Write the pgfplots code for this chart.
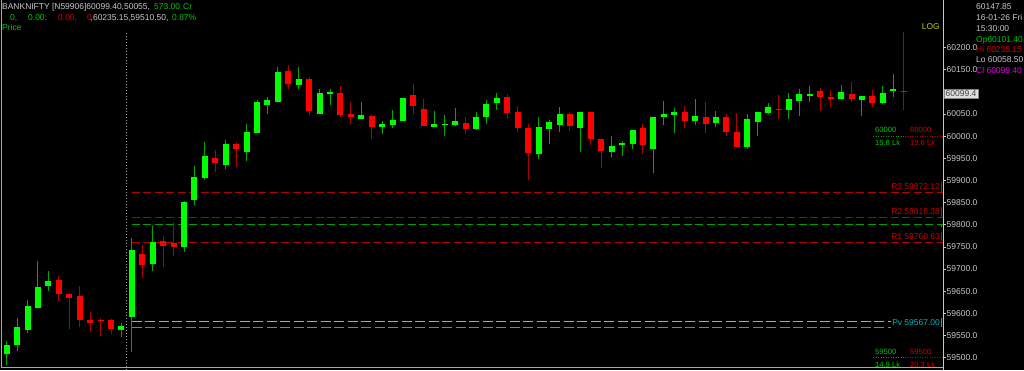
\documentclass[border=0pt]{standalone}
\usepackage{pgfplots}
\pgfplotsset{compat=1.18}
\usepackage{pgfplotstable}
\usepackage{fontspec}
\setmainfont{Liberation Sans}
\pgfdeclarelayer{bg}
\pgfsetlayers{bg,main}
\definecolor{cgreen}{HTML}{00FF00}
\definecolor{cred}{HTML}{FF0000}
\definecolor{wgreen}{HTML}{00A800}
\definecolor{wred}{HTML}{B00000}
\definecolor{txtgray}{HTML}{C8C8C8}
\definecolor{tgreen}{HTML}{00C800}
\definecolor{tred}{HTML}{D00000}
\definecolor{lred}{HTML}{B40000}
\definecolor{lgreen}{HTML}{00A000}
\definecolor{pvcyan}{HTML}{00B4B4}
\definecolor{pvgray}{HTML}{A8A8A8}
\definecolor{logy}{HTML}{C8C800}
\definecolor{mag}{HTML}{E000E0}
\pgfplotstableread{
x O H L C
0 59508 59537 59483 59528
1 59528 59590 59516 59568
2 59562 59630 59556 59617
3 59613 59719 59612 59660
4 59661 59695 59650 59673
11 59562 59579 59547 59571
12 59591 59769 59513 59743
14 59711 59796 59696 59762
17 59749 59854 59739 59852
18 59856 59933 59844 59907
19 59905 59986 59902 59955
21 59935 59991 59925 59982
23 59965 60027 59944 60009
24 60008 60081 60006 60076
25 60071 60089 60051 60081
26 60078 60155 60077 60145
28 60115 60155 60107 60130
30 60050 60106 60049 60098
31 60095 60106 60070 60100
34 60039 60078 60038 60048
36 60021 60035 60005 60027
37 60024 60059 60019 60037
38 60034 60086 60033 60085
41 60021 60057 60020 60028
42 60024 60047 60000 60028
43 60024 60063 60023 60034
45 60016 60054 60014 60044
46 60042 60082 60027 60073
47 60074 60097 60059 60085
51 59960 60042 59949 60020
52 60016 60036 59982 60031
53 60025 60066 60010 60049
55 60018 60054 59963 60054
58 59963 60001 59952 59978
59 59981 59989 59956 59984
60 59982 60014 59972 60014
62 59972 60042 59917 60042
63 60042 60079 60024 60049
64 60048 60064 60008 60055
66 60033 60083 60024 60046
68 60029 60057 60021 60044
71 59976 60049 59971 60038
72 60032 60055 60001 60055
73 60053 60075 60050 60066
75 60059 60097 60038 60083
76 60080 60106 60046 60095
77 60091 60112 60078 60095
80 60084 60115 60082 60100
82 60082 60090 60046 60090
84 60074 60113 60073 60097
85 60102.5 60139.5 60087.5 60105.6
}\greendata
\pgfplotstableread{
x O H L C
5 59675 59684 59626 59644
6 59644 59646 59564 59635
7 59640 59662 59568 59586
8 59586 59604 59560 59579
9 59586 59589 59549 59582
10 59586 59587 59553 59565
13 59734 59754 59679 59708
15 59764 59775 59705 59753
16 59758 59807 59729 59750
20 59951 59969 59920 59939
22 59982 59987 59930 59971
27 60146 60161 60107 60117
29 60128 60133 60048 60057
32 60097 60112 60042 60048
33 60051 60078 60028 60042
35 60046 60051 59993 60021
39 60092 60118 60051 60068
40 60061 60084 60022 60023
44 60030 60044 60005 60017
48 60088 60094 60038 60053
49 60054 60069 60010 60019
50 60019 60027 59901 59962
54 60051 60055 60012 60023
56 60054 60054 59980 59993
57 59993 59994 59929 59966
61 60018 60027 59960 59979
65 60055 60069 60018 60035
67 60044 60078 60008 60027
69 60044 60050 60001 60010
70 60010 60053 59976 59976
74 60062 60093 60039 60059
78 60101 60108 60057 60088
79 60088 60104 60065 60084
81 60096 60121 60078 60083
83 60090 60105 60065 60074
86 60101.4 60235.15 60058.5 60099.4
}\reddata
\begin{document}
\begin{tikzpicture}
\begin{axis}[scale only axis, clip=false,
  width=943bp, height=367bp,
  xmin=-0.642, xmax=89.77, ymin=59478.8, ymax=60307.2,
  axis line style={draw=none},
  xtick=\empty,
  ytick={59500,59550,59600,59650,59700,59750,59800,59850,59900,59950,60000,60050,60150,60200},
  scaled y ticks=false,
  ytick pos=right, yticklabel pos=right,
  tick align=outside, major tick length=2.5bp,
  tick style={draw=txtgray, line width=0.6bp},
  yticklabel style={font=\fontsize{8.5}{10}\selectfont, text=txtgray, inner sep=1bp},
  /pgf/number format/.cd, fixed, fixed zerofill, precision=1, 1000 sep={}, assume math mode=true]
\coordinate (AO) at (axis cs:0,60000);
% support / resistance lines
\addplot[lred, line width=0.9bp, dash pattern=on 8bp off 3.5bp] coordinates {(12,59872.12) (89.77,59872.12)};
\addplot[lred, line width=0.9bp, dash pattern=on 8bp off 3.5bp] coordinates {(12,59816.38) (89.77,59816.38)};
\addplot[lgreen, line width=0.9bp, dash pattern=on 8bp off 3.5bp] coordinates {(12,59800) (89.77,59800)};
\addplot[lred, line width=0.9bp, dash pattern=on 8bp off 3.5bp] coordinates {(12,59760.63) (89.77,59760.63)};
\addplot[pvgray, line width=0.9bp, dash pattern=on 10bp off 3.5bp] coordinates {(12,59582) (84.8,59582)};
\addplot[pvcyan, line width=0.9bp, dash pattern=on 10bp off 3.5bp] coordinates {(12,59567) (84.8,59567)};
\addplot[lgreen, line width=0.8bp, dash pattern=on 1bp off 1.5bp] coordinates {(83.1,60000) (86.1,60000)};
\addplot[lred, line width=0.8bp, dash pattern=on 1bp off 1.5bp] coordinates {(86.1,60000) (89.77,60000)};
\addplot[lgreen, line width=0.8bp, dash pattern=on 1bp off 1.5bp] coordinates {(83.1,59500) (86.1,59500)};
\addplot[lred, line width=0.8bp, dash pattern=on 1bp off 1.5bp] coordinates {(86.1,59500) (89.77,59500)};
% candles
\addplot[wgreen, line width=1bp, quiver={u=0,v=\thisrow{H}-\thisrow{L}}] table[x=x,y=L]{\greendata};
\addplot[wred, line width=1bp, quiver={u=0,v=\thisrow{H}-\thisrow{L}}] table[x=x,y=L]{\reddata};
\addplot[cgreen, line width=6bp, quiver={u=0,v=\thisrow{C}-\thisrow{O}}] table[x=x,y=O]{\greendata};
\addplot[cred, line width=6bp, quiver={u=0,v=\thisrow{O}-\thisrow{C}}] table[x=x,y=C]{\reddata};
\end{axis}
\begin{scope}[shift={(AO)}, xshift=-6.7bp, yshift=-233.9bp, x=1bp, y=1bp]
\begin{pgfonlayer}{bg}
\fill[black] (0,0) rectangle (1024,370);
\end{pgfonlayer}
% vertical session separator
\draw[pvgray, line width=0.8bp, dash pattern=on 1bp off 2bp] (126.7,370-33) -- (126.7,0);
% frame lines
\draw[pvgray, line width=0.8bp] (1,370-367) -- (943,370-367);
\draw[pvgray, line width=0.8bp] (1,370-367) -- (1,370);
\draw[txtgray, line width=0.8bp] (943,370) -- (943,0);
% small coloured markers at the price scale
\draw[tred, line width=1.2bp] (941.5,370-181.5) -- (941.5,370-193);
\draw[tred, line width=1.2bp] (941.5,370-206.5) -- (941.5,370-217);
\draw[lgreen, line width=1.2bp] (941.5,370-224.5) -- (941.5,370-227);
\draw[tred, line width=1.2bp] (941.5,370-231.5) -- (941.5,370-241);
\draw[pvcyan, line width=1.2bp] (941.5,370-318) -- (941.5,370-327);
% header
\begin{scope}[every node/.style={inner sep=0pt, font=\fontsize{8.5}{10}\selectfont, anchor=base west}]
\node[text=txtgray] at (2,370-10) {BANKNIFTY [N59906]60099.40,50055,};
\node[text=tgreen] at (154,370-10) {573.00};
\node[text=tgreen] at (183,370-10) {Cr};
\node[text=tgreen] at (10,370-20.5) {0,};
\node[text=tgreen] at (28,370-20.5) {0.00:};
\node[text=tred] at (58,370-20.5) {0.00,};
\node[text=tred] at (87,370-20.5) {0};
\node[text=txtgray] at (90.5,370-20.5) {,60235.15,59510.50,};
\node[text=tgreen] at (172,370-20.5) {0.87\%};
\node[text=tgreen] at (2,370-31) {Price};
% right info panel
\node[text=txtgray] at (976,370-9.7) {60147.85};
\node[text=txtgray] at (976,370-20.3) {16-01-26 Fri};
\node[text=txtgray] at (976,370-31.3) {15:30:00};
\node[text=tgreen] at (976,370-42.3) {Op60101.40};
\node[text=tred] at (976,370-52.3) {Hi 60235.15};
\node[text=txtgray] at (976,370-63) {Lo 60058.50};
\node[text=mag] at (976,370-73.7) {Cl 60099.40};
\end{scope}
\begin{scope}[every node/.style={inner sep=0pt, font=\fontsize{8.5}{10}\selectfont, anchor=base east}]
\node[text=logy] at (940,370-30) {LOG};
\node[text=tred] at (940,370-189.7) {R3 59872.12};
\node[text=tred] at (940,370-214.5) {R2 59816.38};
\node[text=tred] at (940,370-239.3) {R1 59760.63};
\node[text=pvcyan] at (940,370-325.7) {Pv 59567.00};
\end{scope}
\begin{scope}[every node/.style={inner sep=0pt, font=\fontsize{7.6}{9}\selectfont, anchor=base west}]
\node[text=tgreen] at (875,370-132.5) {60000};
\node[text=tred] at (910,370-132.5) {60000};
\node[text=tgreen] at (875,370-145) {15.6 Lk};
\node[text=tred] at (910,370-145) {13.6 Lk};
\node[text=tgreen] at (875,370-354.5) {59500};
\node[text=tred] at (910,370-354.5) {59500};
\node[text=tgreen] at (875,370-367) {14.9 Lk};
\node[text=tred] at (910,370-367) {20.3 Lk};
\end{scope}
% current price box
\node[fill=white!88!black, draw=gray, line width=0.4bp, inner xsep=1.5bp, inner ysep=1.5bp, text=black!75, font=\fontsize{8.5}{10}\selectfont, anchor=west] at (944,370-94) {60099.4};
\pgfresetboundingbox
\path[use as bounding box] (0,0) rectangle (1024,370);
\end{scope}
\end{tikzpicture}
\end{document}
